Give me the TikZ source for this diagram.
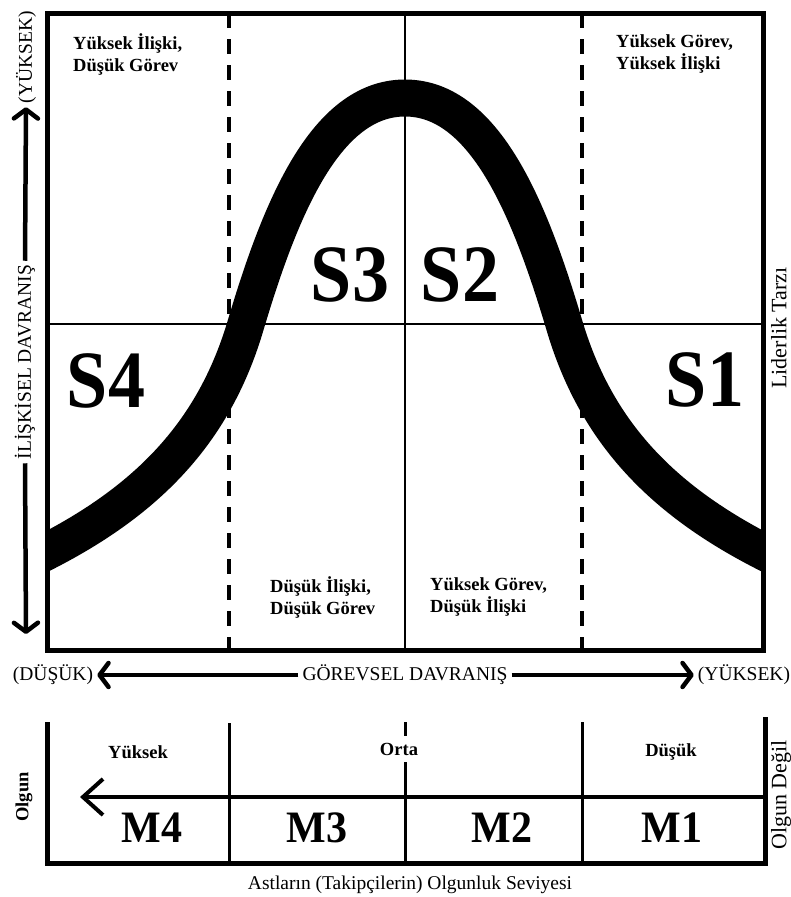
\documentclass[tikz,border=0pt]{standalone}
\usepackage{fontspec}
\setmainfont{Liberation Serif}
\usetikzlibrary{arrows.meta}
\begin{document}
\begin{tikzpicture}[x=1pt,y=-1pt,
  frame/.style={line width=5pt},
  thinline/.style={line width=2.2pt},
  divline/.style={line width=3pt},
  dashline/.style={line width=3.5pt, dash pattern=on 15pt off 11pt},
  band/.style={line width=37pt},
  axtxt/.style={font=\fontsize{19.5}{22}\selectfont, inner sep=4pt},
  celltxt/.style={font=\fontsize{18.5}{22}\selectfont\bfseries, align=left, inner sep=0pt, anchor=west},
  levtxt/.style={font=\fontsize{18.5}{22}\selectfont\bfseries, inner sep=0pt},
  sidetxt/.style={font=\fontsize{22}{24}\selectfont, rotate=90, anchor=north, inner sep=0pt},
  slbl/.style={font=\fontsize{74}{80}\selectfont\bfseries, inner sep=0pt},
  mlbl/.style={font=\fontsize{42}{46}\selectfont\bfseries, inner sep=0pt},
  axarrow/.style={line width=4.5pt, -{Straight Barb[length=9pt,width=24pt,line width=4.5pt,round]}},
]
\useasboundingbox[fill=white] (0,0) rectangle (791,897);

% ---------- upper grid ----------
\coordinate (tl) at (47,13);
\coordinate (br) at (763,650);
\coordinate (d1t) at (229,13);  \coordinate (d1b) at (229,650);
\coordinate (d2t) at (582,13);  \coordinate (d2b) at (582,650);
\coordinate (mt) at (405,13);   \coordinate (mb) at (405,650);
\coordinate (hl) at (47,324);   \coordinate (hr) at (763,324);
\draw[dashline] (d1t) -- (d1b);
\draw[dashline] (d2t) -- (d2b);
\draw[thinline] (mt) -- (mb);
\draw[thinline] (hl) -- (hr);

% ---------- bell band ----------
\begin{scope}
\clip (tl) rectangle (br);
\draw[band] (40,555) .. controls (150,500) and (215,430) .. (246,324)
  .. controls (280,210) and (325,98) .. (405,98)
  .. controls (485,98) and (530,210) .. (564,324)
  .. controls (595,430) and (660,500) .. (770,555);
\end{scope}
\draw[frame] (tl) rectangle (br);

% ---------- cell texts ----------
\node[celltxt] (c1) at (73,54) {Yüksek İlişki,\\Düşük Görev};
\node[celltxt] (c2) at (616,54) {Yüksek Görev,\\Yüksek İlişki};
\node[celltxt] (c3) at (270,597) {Düşük İlişki,\\Düşük Görev};
\node[celltxt] (c4) at (430,597) {Yüksek Görev,\\Düşük İlişki};

\node[slbl] (s4) at (106,381) {\scalebox{1}[1.1]{S4}};
\node[slbl] (s3) at (350,275) {\scalebox{1}[1.1]{S3}};
\node[slbl] (s2) at (460,275) {\scalebox{1}[1.1]{S2}};
\node[slbl] (s1) at (705,380) {\scalebox{1}[1.1]{S1}};

% ---------- vertical axis ----------
\node[axtxt, rotate=90] (yH) at (26,57) {(YÜKSEK)};
\node[axtxt, rotate=90] (rel) at (25,362) {İLİŞKİSEL DAVRANIŞ};
\coordinate (yL) at (26,634);
\draw[axarrow] (rel.east) -- (yH.west);
\draw[axarrow] (rel.west) -- (yL);

% ---------- horizontal axis ----------
\node[axtxt] (xL) at (53,675) {(DÜŞÜK)};
\node[axtxt] (tsk) at (405,675) {GÖREVSEL DAVRANIŞ};
\node[axtxt] (xH) at (744,675) {(YÜKSEK)};
\draw[axarrow] (tsk.west) -- (xL.east);
\draw[axarrow] (tsk.east) -- (xH.west);

% ---------- right side label ----------
\node[sidetxt] (lt) at (771,328) {Liderlik Tarzı};

% ---------- maturity box ----------
\coordinate (bl1) at (47,722);  \coordinate (bl2) at (47,863);
\coordinate (br2) at (765,863); \coordinate (br1) at (765,717);
\draw[frame] (bl1) -- (bl2) -- (br2) -- (br1);
\coordinate (v1t) at (229,723); \coordinate (v1b) at (229,863);
\coordinate (v2t) at (405,722); \coordinate (v2b) at (405,866);
\coordinate (v3t) at (582,722); \coordinate (v3b) at (582,863);
\draw[divline] (v1t) -- (v1b);
\draw[divline] (v2t) -- (v2b);
\draw[divline] (v3t) -- (v3b);
\coordinate (mr) at (765,797);
\coordinate (mtip) at (80,797);
\draw[line width=4pt, -{Straight Barb[length=20pt,width=36pt,line width=4pt]}] (mr) -- (mtip);

\node[levtxt] (lv1) at (138,752) {Yüksek};
\node[levtxt, fill=white, inner ysep=7pt, inner xsep=1pt] (lv2) at (399,749) {Orta};
\node[levtxt] (lv3) at (671,752) {Düşük};

\node[mlbl] (m4) at (152,828) {\scalebox{1}[1.07]{M4}};
\node[mlbl] (m3) at (317,828) {\scalebox{1}[1.07]{M3}};
\node[mlbl] (m2) at (502,828) {\scalebox{1}[1.07]{M2}};
\node[mlbl] (m1) at (672,828) {\scalebox{1}[1.07]{M1}};

\node[levtxt, rotate=90] (olg) at (24,797) {Olgun};
\node[sidetxt] (olgd) at (771,795) {Olgun Değil};
\node[axtxt] (ast) at (410,885) {Astların (Takipçilerin) Olgunluk Seviyesi};
\end{tikzpicture}
\end{document}
